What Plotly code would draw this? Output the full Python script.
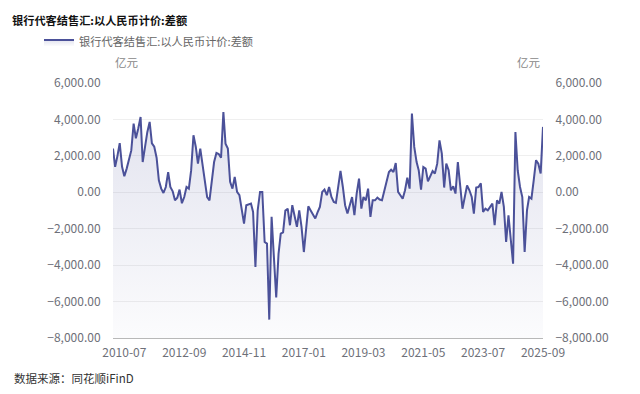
import pandas as pd
import plotly.graph_objects as go

# ---- data ----
START_MONTH = "2010-02-01"
values = [
    2400, 1400, 2000, 2700, 1400, 880, 1300, 1900, 2300, 3770,
    2960, 3500, 4130, 1660, 2500, 3300, 3860, 2690, 2500, 1900,
    660, 200, -40, 290, 1110, 290, 50, -440, -300, 150,
    -600, -260, 290, 200, 1200, 3130, 2490, 1580, 2400, 1580,
    660, -260, -440, 660, 1660, 2160, 2100, 1900, 4410, 2670,
    2400, 570, 200, 840, 20, -160, -990, -1720, -710, -650,
    -620, -1080, -4100, -990, 20, 20, -2730, -2820, -6990, -1350,
    -3370, -5780, -3370, -2270, -2200, -1000, -900, -1810, -710, -1350,
    -1900, -990, -1900, -3280, -1720, -770, -1000, -1250, -1440, -1100,
    -800, 20, 150, -160, 290, -260, -530, -580, 480, 1170,
    290, -710, -1170, -620, -260, -1260, -70, 750, -900, -260,
    -440, 200, -1350, -440, -440, -290, -400, -440, 110, 570,
    1110, 1240, 1110, 1610, 20, -160, -350, 110, 800, 200,
    4320, 2490, 1660, 1210, 150, 1390, 1300, 600, 880, 1170,
    1030, 1570, 2850, 2120, 260, 1570, 1210, 110, 330, -70,
    1660, 290, -900, -260, 380, 110, -260, -1170, 260, 290,
    490, -1080, -900, -990, -800, -620, -1810, -440, -620, 20,
    -800, -2730, -1260, -2820, -3920, 3310, 1210, 290, -260, -3280,
    -990, -260, -350, 660, 1760, 1570, 1030, 3590,
]
months = pd.date_range(START_MONTH, periods=len(values), freq="MS")

x_tick_labels = ["2010-07", "2012-09", "2014-11", "2017-01",
                 "2019-03", "2021-05", "2023-07", "2025-09"]
y_ticks = [-8000, -6000, -4000, -2000, 0, 2000, 4000, 6000]
Y_MIN, Y_MAX = -8000, 6000

series_name = "银行代客结售汇:以人民币计价:差额"
title_text = "银行代客结售汇:以人民币计价:差额"
unit_text = "亿元"
source_text = "数据来源：同花顺iFinD"

# ---- styling ----
FONT = "Noto Sans CJK SC"
LINE_COLOR = "#4B5199"
TICK_COLOR = "#6E7079"

# the page body has an 8px margin, so the figure is made 8px smaller
# and everything is positioned in figure coordinates (page - 8)
FIG_W, FIG_H = 632, 386
PLOT_L, PLOT_R, PLOT_T, PLOT_B = 105, 535, 75, 330
PW, PH = PLOT_R - PLOT_L, PLOT_B - PLOT_T


def px_to_paper_x(px):
    return (px - PLOT_L) / PW


def px_to_paper_y(py):
    return (PLOT_B - py) / PH


fig = go.Figure()

# invisible baseline at the bottom of the axis so the area fills down to it
fig.add_trace(go.Scatter(
    x=months, y=[Y_MIN] * len(months), mode="lines",
    line=dict(width=0, color="rgba(0,0,0,0)"),
    showlegend=False, hoverinfo="skip",
))
fig.add_trace(go.Scatter(
    x=months, y=values, mode="lines", name=series_name,
    line=dict(color=LINE_COLOR, width=2),
    fill="tonexty",
    fillgradient=dict(
        type="vertical",
        start=Y_MIN, stop=4500,
        colorscale=[[0, "rgba(75,81,153,0.02)"], [1, "rgba(75,81,153,0.16)"]],
    ),
))
# mirror trace on the right axis (invisible) so it renders
fig.add_trace(go.Scatter(
    x=months, y=values, yaxis="y2", mode="lines",
    line=dict(width=0, color="rgba(0,0,0,0)"),
    showlegend=False, hoverinfo="skip",
))

tick_dates = [pd.Timestamp(t + "-01") for t in x_tick_labels]

fig.update_layout(
    width=FIG_W, height=FIG_H, autosize=False,
    margin=dict(l=PLOT_L, r=FIG_W - PLOT_R, t=PLOT_T, b=FIG_H - PLOT_B, pad=0),
    paper_bgcolor="white", plot_bgcolor="white",
    font=dict(family=FONT, size=12, color=TICK_COLOR),
    title=dict(
        text=title_text, xref="container", yref="container",
        x=4 / FIG_W, xanchor="left", y=1 - 13 / FIG_H, yanchor="middle",
        font=dict(family=FONT, size=11.2, color="#111111", weight="bold"),
    ),
    showlegend=True,
    legend=dict(
        orientation="h", x=px_to_paper_x(31), xanchor="left",
        y=px_to_paper_y(34), yanchor="middle",
        font=dict(family=FONT, size=11.2, color="#666666"),
        bgcolor="rgba(0,0,0,0)", borderwidth=0,
    ),
    xaxis=dict(
        type="date",
        range=[months[0], months[-1]],
        tickvals=tick_dates, ticktext=x_tick_labels,
        showgrid=False, zeroline=False,
        showline=True, linecolor="#B8B8B8", linewidth=1,
        ticks="outside", ticklen=4, tickcolor="rgba(0,0,0,0)",
        tickfont=dict(family=FONT, size=12, color=TICK_COLOR),
    ),
    yaxis=dict(
        range=[Y_MIN, Y_MAX], tickvals=y_ticks, tickformat=",.2f",
        showgrid=True, gridcolor="#EFEFEF", gridwidth=1,
        zeroline=False, showline=False,
        ticks="outside", ticklen=9, tickcolor="rgba(0,0,0,0)",
        tickfont=dict(family=FONT, size=12, color=TICK_COLOR),
    ),
    yaxis2=dict(
        range=[Y_MIN, Y_MAX], tickvals=y_ticks, tickformat=",.2f",
        overlaying="y", side="right",
        showgrid=False, zeroline=False, showline=False,
        ticks="outside", ticklen=9, tickcolor="rgba(0,0,0,0)",
        tickfont=dict(family=FONT, size=12, color=TICK_COLOR),
    ),
    annotations=[
        dict(text=unit_text, xref="paper", yref="paper", x=0, xanchor="left",
             y=px_to_paper_y(54), yanchor="middle", showarrow=False,
             font=dict(family=FONT, size=11.5, color="#888888")),
        dict(text=unit_text, xref="paper", yref="paper", x=1, xanchor="right",
             y=px_to_paper_y(54), yanchor="middle", showarrow=False,
             font=dict(family=FONT, size=11.5, color="#888888")),
        dict(text=source_text, xref="paper", yref="paper",
             x=px_to_paper_x(4), xanchor="left",
             y=px_to_paper_y(370), yanchor="middle", showarrow=False,
             font=dict(family=FONT, size=11.5, color="#333333")),
    ],
)

fig.write_html("out.html")
